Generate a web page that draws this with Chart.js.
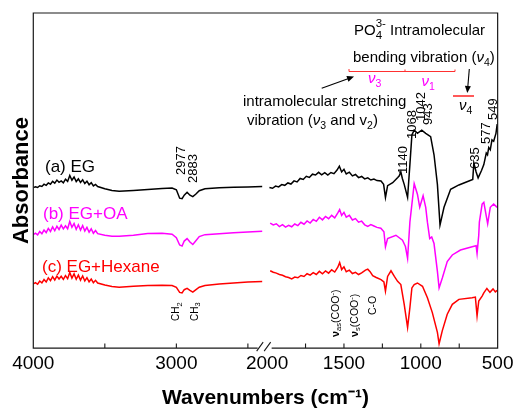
<!DOCTYPE html>
<html><head><meta charset="utf-8">
<script src="https://cdn.jsdelivr.net/npm/chart.js@4.4.1/dist/chart.umd.min.js"></script>
<style>html,body{margin:0;padding:0;background:#fff}canvas{display:block}</style>
</head><body>
<canvas id="c" width="518" height="412"></canvas>
<script>
// ---- axis ticks ----
const tickWavenumbers = [4000,3500,3000,2500,2000,1750,1500,1250,1000,750,500];
const tickLabels      = ['4000','','3000','','2000','','1500','','1000','','500'];

// ---- series names ----
const seriesNames = ['(a) EG','(b) EG+OA','(c) EG+Hexane'];

// ---- high-wavenumber segment (4000-2400 cm-1), shared x ----
const wnHigh = [4000,3985,3970,3955,3940,3925,3910,3895,3880,3865,3850,3835,3820,3805,3790,3775,3760,3745,3730,3715,3700,3685,3670,3655,3640,3625,3610,3595,3580,3565,3550,
  3500,3450,3400,3300,3200,3100,3030,3000,2977,2960,2945,2925,2905,2885,2865,2840,2800,2700,2600,2500,2400];
const egHigh = [162.7,163.5,162.8,164.6,163.9,166.2,165.0,167.4,166.1,169.0,167.2,170.3,168.0,169.5,167.6,171.2,169.0,175.0,170.2,173.4,168.8,171.5,167.9,170.6,166.8,169.2,165.6,167.7,164.4,165.9,163.8,
  161.5,159.8,158.9,159.8,160.8,161.8,162.3,160.5,152,151.5,155,158,155,153.5,156,159.5,161.5,162.5,163,163.4,163.7];
const oaHigh = [115.0,116.5,114.8,118.2,116.0,119.6,117.1,121.4,118.3,122.8,119.0,123.5,120.2,124.6,120.8,123.9,121.0,128.4,122.5,126.3,120.4,125.0,119.6,124.2,118.7,122.3,117.5,121.0,116.4,119.2,116.0,
  114.5,113.5,113.3,114.5,116.2,116.5,115.5,112,104.5,103.4,108.5,111,107.5,105,108.5,113,115,116,117,117.8,118.4];
const hexHigh = [65.0,66.4,64.7,68.0,66.1,69.5,67.0,71.2,68.3,72.4,69.1,73.0,70.0,72.8,69.6,73.5,70.4,76.7,71.0,75.2,69.8,74.0,68.9,73.1,68.0,71.4,67.2,70.0,66.3,68.7,66.0,
  64.0,62.5,61.8,62.6,63.4,63.8,63.4,61.5,56.5,56,59.2,60.5,58.5,56.7,59,61.7,63.5,65,66,67,67.4];

// ---- low-wavenumber segment (2000-500 cm-1) ----
const egLowWn = [1985,1965,1945,1925,1905,1885,1865,1845,1825,1805,1785,1765,1745,1725,1705,1685,1665,1645,1625,1605,1585,1565,1545,1530,1515,1500,1485,1465,1445,1425,1405,1385,1365,1345,1325,1305,1285,1259,
  1242,1230,1216,1183,1150,1140,1130,1120,1108,1086,1071,1058,1043,1022,994,968,936,914,892,875,849,806,752,687,662,655,640,627,605,590,574,566,558,548,537,526,511,503];
const egLow = [162.7,162.0,164.2,163.4,165.8,165.0,167.4,166.3,169.5,168.4,172.0,171.0,174.2,173.0,176.3,175.5,178.2,175.6,177.9,175.4,178.0,176.8,180.5,184.4,178.6,181.2,176.5,178.3,174.6,176.0,172.8,174.0,171.5,172.6,170.4,171.4,169.8,169.4,
  166.0,152.7,164.7,167.7,173.0,174.7,178.7,172.0,166.0,152.7,186.0,216.0,221.0,217.7,221.0,217.7,214.4,196.0,166.0,124.7,142.7,161.0,165.4,169.4,171.0,187.7,178.5,172.5,180.0,186.0,197.7,196.0,203.4,201.0,211.0,209.7,217.7,227.0];

const oaLowWn = [1980,1960,1940,1920,1900,1880,1860,1840,1820,1800,1780,1760,1740,1720,1700,1680,1660,1640,1620,1600,1580,1560,1540,1528,1515,1500,1485,1465,1445,1425,1405,1385,1365,1345,1325,1305,1285,1260,
  1240,1230,1216,1162,1119,1100,1086,1071,1043,1022,1007,985,968,957,942,929,914,892,881,860,828,795,742,666,640,634,623,619,601,590,565,548,526,503];
const oaLow = [126.7,124.8,126.0,123.2,125.1,122.6,124.5,123.0,125.8,124.2,127.5,125.6,128.9,126.8,130.4,128.5,132.6,130.0,133.5,131.2,134.6,132.0,137.0,140.4,134.5,137.6,132.8,134.6,129.9,131.3,127.6,128.7,125.0,123.4,125.2,123.8,122.4,121.5,
  118.0,102.7,111.0,114.4,109.4,103.0,91.0,127.7,166.7,156.0,142.7,154.4,142.7,127.7,111.0,112.7,106.0,77.7,61.0,71.0,87.7,94.4,99.4,102.7,103.7,96.0,114.4,127.7,146.0,147.7,126.0,142.7,146.0,142.7];

const hexLowWn = [1980,1960,1940,1920,1900,1880,1860,1840,1820,1800,1780,1760,1740,1720,1700,1680,1660,1640,1620,1600,1580,1560,1540,1528,1515,1500,1485,1465,1445,1425,1405,1385,1360,1345,1330,1313,1290,1259,
  1240,1230,1216,1194,1172,1151,1130,1108,1086,1071,1058,1043,1022,989,957,925,892,881,860,828,795,752,666,645,634,623,601,590,570,550,530,515,503];
const hexLow = [78.4,76.9,76.0,74.6,73.8,72.4,71.6,70.2,72.0,71.3,73.6,72.6,75.4,73.9,76.5,74.6,77.8,75.4,78.3,76.0,79.4,77.1,82.0,86.7,79.6,82.4,77.4,79.0,75.6,76.8,74.6,76.2,79.0,80.0,77.5,73.4,71.6,69.4,
  67.0,57.7,72.7,78.4,72.7,67.7,64.4,44.4,21.0,41.0,61.0,64.4,66.0,62.7,51.0,36.0,16.0,4.4,17.7,34.4,44.4,49.4,51.0,51.7,32.7,47.7,52.7,56.0,60.5,56.5,60.0,57.0,58.5];

// ---- broken wavenumber axis: 4000-2400 and 2000-500 share one axis ----
const LEFT_K = 0.144, RIGHT_K = 0.1547, U_MAX = 467.4;
function toAxis(w){ return w > 2200 ? (4000 - w) * LEFT_K : U_MAX - (w - 500) * RIGHT_K; }
function build(wH, aH, wL, aL){
  const pts = wH.map((w,i)=>({x: toAxis(w), y: aH[i]}));
  pts.push({x: (toAxis(2400)+toAxis(2000))/2, y: null});
  wL.forEach((w,i)=>pts.push({x: toAxis(w), y: aL[i]}));
  return pts;
}

const FONT = "'Liberation Sans', Arial, sans-serif";
const MAG = '#ff00ff', RED = '#ff0000';

function rich(ctx, x, y, parts, rot, color){
  ctx.save();
  ctx.translate(x, y);
  if (rot) ctx.rotate(-Math.PI/2);
  ctx.textAlign = 'left'; ctx.textBaseline = 'alphabetic';
  let cx = 0;
  for (const p of parts){
    ctx.font = p.f; ctx.fillStyle = p.c || color || '#000';
    ctx.fillText(p.t, cx, p.dy || 0);
    if (p.adv !== false) cx += ctx.measureText(p.t).width;
  }
  ctx.restore();
}
function arrow(ctx, x1, y1, x2, y2){
  const a = Math.atan2(y2-y1, x2-x1), L = 7, W = 3;
  ctx.beginPath(); ctx.moveTo(x1,y1); ctx.lineTo(x2 - Math.cos(a)*L*0.6, y2 - Math.sin(a)*L*0.6); ctx.stroke();
  ctx.beginPath();
  ctx.moveTo(x2, y2);
  ctx.lineTo(x2 - Math.cos(a)*L + Math.sin(a)*W, y2 - Math.sin(a)*L - Math.cos(a)*W);
  ctx.lineTo(x2 - Math.cos(a)*L - Math.sin(a)*W, y2 - Math.sin(a)*L + Math.cos(a)*W);
  ctx.closePath(); ctx.fill();
}

const decor = {
  id: 'decor',
  afterDraw(chart){
    const ctx = chart.ctx, ca = chart.chartArea, xs = chart.scales.x;
    ctx.save();
    // frame with broken bottom axis
    const bx = (xs.getPixelForValue(toAxis(2400)) + xs.getPixelForValue(toAxis(2000))) / 2;
    ctx.strokeStyle = '#1a1a1a'; ctx.lineWidth = 1.2;
    ctx.beginPath();
    ctx.moveTo(bx - 7, ca.bottom); ctx.lineTo(ca.left, ca.bottom); ctx.lineTo(ca.left, ca.top);
    ctx.lineTo(ca.right, ca.top); ctx.lineTo(ca.right, ca.bottom); ctx.lineTo(bx + 7, ca.bottom);
    ctx.stroke();
    ctx.lineWidth = 1.1;
    ctx.beginPath();
    ctx.moveTo(bx - 8, ca.bottom + 3); ctx.lineTo(bx - 1.5, ca.bottom - 6);
    ctx.moveTo(bx - 0.5, ca.bottom + 3); ctx.lineTo(bx + 6, ca.bottom - 6);
    ctx.stroke();
    // inward ticks
    ctx.beginPath();
    tickWavenumbers.forEach(w => {
      if (w === 2000 || w === 4000 || w === 500) return;
      const px = xs.getPixelForValue(toAxis(w));
      ctx.moveTo(px, ca.bottom); ctx.lineTo(px, ca.bottom - 4.5);
    });
    ctx.stroke();

    // series labels
    ctx.font = '17px ' + FONT; ctx.textBaseline = 'alphabetic'; ctx.textAlign = 'left';
    ctx.fillStyle = '#000'; ctx.fillText(seriesNames[0], 45, 172);
    ctx.fillStyle = MAG; ctx.fillText(seriesNames[1], 43, 219);
    ctx.fillStyle = RED; ctx.fillText(seriesNames[2], 42, 272);

    // peak labels (vertical)
    const peaks = [['2977',181,175],['2883',193.5,183],['1140',403.5,174],['1068',412,139],['1042',421.5,121],['943',428.5,125],['635',475.5,169],['577',486,144],['549',493.5,120]];
    ctx.fillStyle = '#000'; ctx.font = '13px ' + FONT; ctx.textBaseline = 'middle';
    peaks.forEach(([t,x,y]) => { ctx.save(); ctx.translate(x,y); ctx.rotate(-Math.PI/2); ctx.fillText(t,0,0); ctx.restore(); });

    const n = '10px ' + FONT, s = '7.5px ' + FONT;
    rich(ctx, 179, 321, [{t:'CH',f:n},{t:'2',f:s,dy:2.5}], true);
    rich(ctx, 197.5, 321, [{t:'CH',f:n},{t:'3',f:s,dy:2.5}], true);
    const m = '10.5px ' + FONT, ms = '7.5px ' + FONT;
    rich(ctx, 338.5, 337, [{t:'ν',f:'bold 11px '+FONT},{t:'as',f:ms,dy:2.5},{t:'(COO',f:m},{t:'-',f:ms,dy:-4},{t:')',f:m}], true);
    rich(ctx, 357.5, 337, [{t:'ν',f:'bold 11px '+FONT},{t:'s',f:ms,dy:2.5},{t:'(COO',f:m},{t:'-',f:ms,dy:-4},{t:')',f:m}], true);
    rich(ctx, 376, 315, [{t:'C-O',f:m}], true);

    // header annotations
    const h = '15px ' + FONT, hi = 'italic 15px ' + FONT, hs = '10.5px ' + FONT;
    rich(ctx, 354, 35, [{t:'PO',f:h},{t:'4',f:'11.5px '+FONT,dy:4,adv:false},{t:'3-',f:'11.5px '+FONT,dy:-8},{t:' Intramolecular',f:h}]);
    rich(ctx, 353, 62, [{t:'bending vibration (',f:h},{t:'ν',f:hi},{t:'4',f:hs,dy:4},{t:')',f:h}]);
    rich(ctx, 243, 106, [{t:'intramolecular stretching',f:h}]);
    rich(ctx, 247, 125, [{t:'vibration (',f:h},{t:'ν',f:hi},{t:'3',f:hs,dy:4},{t:' and v',f:h},{t:'2',f:hs,dy:4},{t:')',f:h}]);
    rich(ctx, 368, 83, [{t:'ν',f:hi},{t:'3',f:hs,dy:4}], false, MAG);
    rich(ctx, 421.5, 86, [{t:'ν',f:hi},{t:'1',f:hs,dy:4}], false, MAG);
    rich(ctx, 459, 110, [{t:'ν',f:hi},{t:'4',f:hs,dy:4}], false, '#000');

    // red brackets
    ctx.strokeStyle = '#ff3030'; ctx.lineWidth = 1;
    ctx.beginPath();
    ctx.moveTo(349, 69); ctx.lineTo(349, 71.5); ctx.lineTo(455, 71.5); ctx.lineTo(455, 69.5);
    ctx.moveTo(405, 71.5); ctx.lineTo(405, 69.5);
    ctx.stroke();
    ctx.lineWidth = 1.6;
    ctx.beginPath(); ctx.moveTo(453, 96); ctx.lineTo(474, 96); ctx.stroke();

    // arrows
    ctx.strokeStyle = '#000'; ctx.fillStyle = '#000'; ctx.lineWidth = 1.1;
    arrow(ctx, 321.7, 88.3, 354, 76.5);
    arrow(ctx, 469.3, 69, 467.3, 93);
    ctx.restore();
  }
};

new Chart(document.getElementById('c'), {
  type: 'line',
  data: { datasets: [
    { label: seriesNames[0], data: build(wnHigh, egHigh, egLowWn, egLow), borderColor: '#000' },
    { label: seriesNames[1], data: build(wnHigh, oaHigh, oaLowWn, oaLow), borderColor: MAG },
    { label: seriesNames[2], data: build(wnHigh, hexHigh, hexLowWn, hexLow), borderColor: RED }
  ]},
  options: {
    responsive: false, animation: false, devicePixelRatio: 1,
    parsing: false, spanGaps: false,
    elements: { point: { radius: 0 }, line: { borderWidth: 1.5, tension: 0 } },
    layout: { padding: { top: 13, right: 17.3, bottom: 0, left: 0 } },
    plugins: { legend: { display: false }, tooltip: { enabled: false } },
    scales: {
      x: {
        type: 'linear', min: 0, max: U_MAX,
        afterBuildTicks: s => { s.ticks = tickWavenumbers.map(w => ({ value: toAxis(w) })); },
        ticks: { autoSkip: false, maxRotation: 0, padding: 4.5, color: '#000',
                 font: { family: FONT, size: 19 }, callback: (v, i) => tickLabels[i] },
        grid: { display: false, drawTicks: false }, border: { display: false },
        title: { display: true, text: 'Wavenumbers (cm⁻¹)', color: '#000',
                 font: { family: FONT, size: 21, weight: 'bold' }, padding: { top: 6, bottom: 0.9 } }
      },
      y: {
        min: 0, max: 339.7,
        ticks: { display: false }, grid: { display: false, drawTicks: false }, border: { display: false },
        title: { display: true, text: 'Absorbance', color: '#000',
                 font: { family: FONT, size: 22, weight: 'bold', lineHeight: 1 }, padding: { top: 11, bottom: 0.3 } }
      }
    }
  },
  plugins: [decor]
});
</script>
</body></html>
